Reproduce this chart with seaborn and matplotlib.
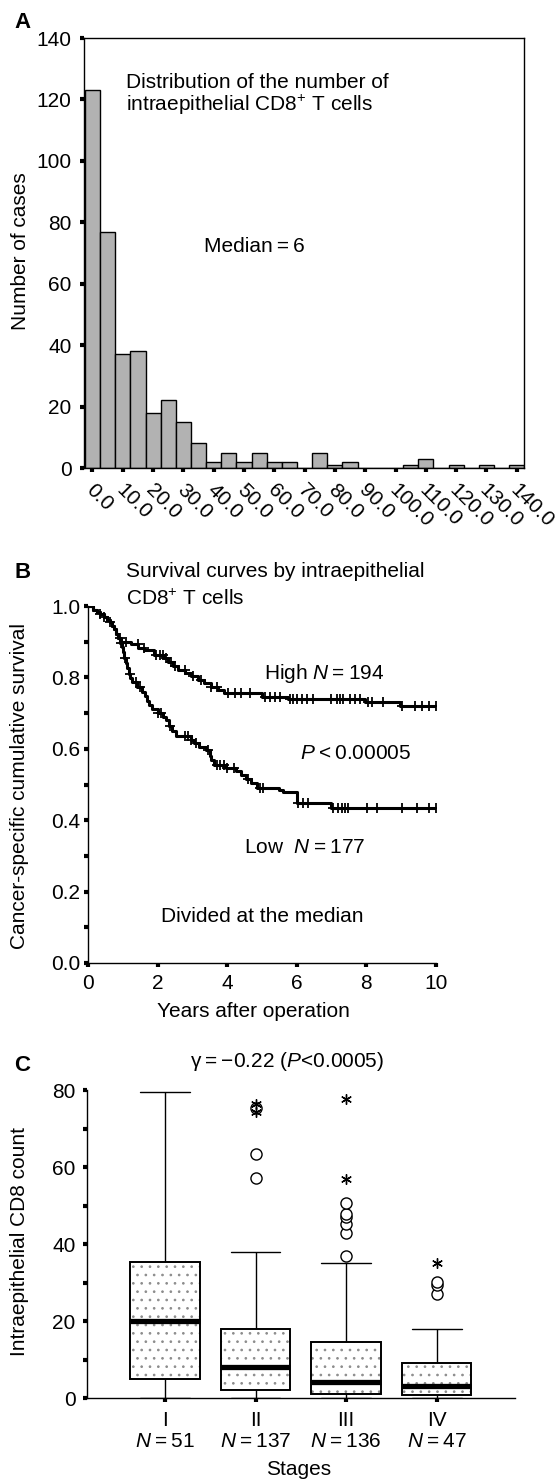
import numpy as np
import pandas as pd
import matplotlib
matplotlib.use("Agg")
import matplotlib.pyplot as plt
import matplotlib.patches as mpatches
import matplotlib.transforms as mtrans
from matplotlib.ticker import FixedLocator
import seaborn as sns

# ---------------- data ----------------
# Panel A: histogram (bin midpoints, bin width 5)
hist_mid = [0, 5, 10, 15, 20, 25, 30, 35, 40, 45, 50, 55, 60, 65, 70, 75, 80,
            85, 90, 95, 100, 105, 110, 115, 120, 125, 130, 135, 140]
hist_count = [123, 77, 37, 38, 18, 22, 15, 8, 2, 5, 2, 5, 2, 2, 0, 5, 1,
              2, 0, 0, 0, 1, 3, 0, 1, 0, 1, 0, 1]
hist_ticks = [0, 10, 20, 30, 40, 50, 60, 70, 80, 90, 100, 110, 120, 130, 140]

# Panel B: Kaplan-Meier step curves
high_t = [0, 0.15, 0.25, 0.35, 0.45, 0.55, 0.62, 0.68, 0.74, 0.80,
          0.86, 0.95, 1.25, 1.45, 1.62, 1.9, 2.2, 2.3, 2.45, 2.6,
          2.8, 2.95, 3.15, 3.35, 3.55, 3.75, 3.92, 5.0, 5.76, 7.97,
          8.97, 10.0]
high_s = [1.0, 0.99, 0.984, 0.978, 0.97, 0.962, 0.955, 0.945, 0.935, 0.922,
          0.91, 0.90, 0.894, 0.882, 0.876, 0.863, 0.855, 0.843, 0.833, 0.822,
          0.812, 0.803, 0.793, 0.783, 0.774, 0.765, 0.755, 0.746, 0.7395, 0.732,
          0.72, 0.72]
high_cens = [0.35, 0.62, 0.91, 1.1, 1.44, 1.6, 1.97, 2.06, 2.16, 2.25, 2.4, 2.49,
             2.78, 3.02, 3.26, 3.55, 3.7, 4.03, 4.22, 4.41, 4.66, 5.09, 5.23,
             5.38, 5.52, 5.81, 5.91, 6.0, 6.15, 6.29, 6.48, 7.0, 7.15, 7.25,
             7.34, 7.54, 7.68, 7.82, 8.06, 8.16, 8.49, 9.02, 9.4, 9.6, 9.8, 10.0]
low_t = [0, 0.15, 0.25, 0.35, 0.45, 0.55, 0.62, 0.68, 0.74, 0.80,
         0.86, 0.92, 0.97, 1.0, 1.04, 1.08, 1.12, 1.17, 1.22, 1.27,
         1.4, 1.55, 1.63, 1.7, 1.76, 1.85, 2.0, 2.15, 2.25, 2.33,
         2.42, 2.52, 2.95, 3.05, 3.2, 3.4, 3.5, 3.55, 3.62, 3.98,
         4.25, 4.4, 4.55, 4.7, 4.85, 5.5, 5.6, 6.0, 7.0, 10.0]
low_s = [1.0, 0.99, 0.984, 0.978, 0.97, 0.962, 0.955, 0.945, 0.935, 0.922,
         0.91, 0.895, 0.885, 0.87, 0.855, 0.84, 0.825, 0.81, 0.797, 0.786,
         0.774, 0.76, 0.748, 0.735, 0.722, 0.712, 0.70, 0.69, 0.68, 0.665,
         0.65, 0.636, 0.625, 0.615, 0.606, 0.597, 0.58, 0.568, 0.555, 0.545,
         0.537, 0.527, 0.515, 0.503, 0.489, 0.484, 0.478, 0.447, 0.435, 0.435]
low_cens = [0.45, 0.96, 1.05, 1.2, 1.39, 1.5, 2.01, 2.1, 2.36, 2.8, 2.88, 2.97,
            3.1, 3.45, 3.7, 3.8, 3.9, 4.0, 4.2, 4.6, 4.95, 5.04, 6.05, 6.19,
            6.34, 7.06, 7.2, 7.3, 7.39, 7.49, 8.01, 8.3, 9.02, 9.45, 9.8, 10.0]

# Panel C: box plot summaries by stage
stages = ["I", "II", "III", "IV"]
stage_n = [51, 137, 136, 47]
box_lo = [0, 0, 0, 0]
box_q1 = [5.0, 2.1, 1.2, 0.85]
box_med = [20.0, 8.0, 4.3, 3.2]
box_q3 = [35.3, 17.9, 14.5, 9.2]
box_hi = [79.6, 38.0, 35.0, 18.0]
circ_stage = ["II", "II", "II", "III", "III", "III", "III", "III", "III", "IV", "IV", "IV"]
circ_val = [57.2, 63.5, 75.4, 36.9, 42.9, 45.1, 47.0, 47.7, 50.8, 27.1, 29.3, 30.1]
star_stage = ["II", "II", "III", "III", "IV"]
star_val = [74.4, 76.3, 56.8, 77.6, 35.2]

# ---------------- style ----------------
sns.set_theme(style="white")
plt.rcParams["font.family"] = ["Liberation Sans", "DejaVu Sans"]
plt.rcParams["mathtext.fontset"] = "custom"
plt.rcParams["mathtext.rm"] = "Liberation Sans"
plt.rcParams["mathtext.it"] = "Liberation Sans:italic"
plt.rcParams["font.size"] = 15
plt.rcParams["text.color"] = "black"
plt.rcParams["axes.labelcolor"] = "black"
plt.rcParams["xtick.color"] = "black"
plt.rcParams["ytick.color"] = "black"
plt.rcParams["axes.linewidth"] = 1.0
plt.rcParams["hatch.linewidth"] = 0.7
FS = 15

W, H = 559, 1481
fig = plt.figure(figsize=(W / 100, H / 100), dpi=100)
fig.patch.set_facecolor("white")


def axrect(l, r, t, b):
    return [l / W, 1 - b / H, (r - l) / W, (b - t) / H]


def ftext(x, y, s, **kw):
    kw.setdefault("fontsize", FS)
    kw.setdefault("va", "baseline")
    kw.setdefault("color", "black")
    fig.text(x / W, 1 - y / H, s, **kw)


axA = fig.add_axes(axrect(84, 524.3, 38, 468))
axB = fig.add_axes(axrect(88, 435.7, 606, 963))
axC = fig.add_axes(axrect(86.8, 515.4, 1090, 1398.3))

for ax in (axA, axB, axC):
    ax.set_facecolor("white")
    for sp in ax.spines.values():
        sp.set_color("black")
        sp.set_linewidth(1.0)

# ---------------- Panel A ----------------
hist_df = pd.DataFrame({"mid": hist_mid, "count": hist_count})
sns.histplot(data=hist_df, x="mid", weights="count", binwidth=5,
             binrange=(-2.5, 142.5), color="#b2b2b2", edgecolor="black",
             linewidth=1.0, alpha=1.0, ax=axA)
axA.set_xlim(-2.8, 142.5)
axA.set_ylim(0, 140)
axA.set_xticks(hist_ticks)
axA.set_xticklabels([f"{v:.1f}" for v in hist_ticks], rotation=-45,
                    ha="left", va="top", rotation_mode="anchor")
axA.set_yticks(range(0, 141, 20))
axA.tick_params(axis="both", direction="out", length=3, width=3, colors="black",
                labelsize=FS, bottom=True, left=True, top=False, right=False)
axA.tick_params(axis="y", pad=6)
axA.tick_params(axis="x", pad=6)
offs = mtrans.ScaledTranslation(3 / 100, 0, fig.dpi_scale_trans)
for lab in axA.get_xticklabels():
    lab.set_transform(lab.get_transform() + offs)
axA.set_xlabel("")
axA.set_ylabel("")

# ---------------- Panel B ----------------
def surv_at(times, surv, t):
    idx = np.searchsorted(times, t, side="right") - 1
    return np.asarray(surv)[idx]

for tt, ss, cc in ((high_t, high_s, high_cens), (low_t, low_s, low_cens)):
    sns.lineplot(x=tt, y=ss, drawstyle="steps-post", color="black", lw=2.2,
                 estimator=None, sort=False, ax=axB)
    sns.scatterplot(x=cc, y=surv_at(tt, ss, cc), marker="+", s=45,
                    color="black", linewidth=1.3, ax=axB, zorder=4)
axB.set_xlim(0, 10)
axB.set_ylim(0, 1.0)
axB.set_xticks([0, 2, 4, 6, 8, 10])
axB.set_xticklabels(["0", "2", "4", "6", "8", "10"])
axB.set_yticks([0, 0.2, 0.4, 0.6, 0.8, 1.0])
axB.set_yticklabels(["0.0", "0.2", "0.4", "0.6", "0.8", "1.0"])
axB.yaxis.set_minor_locator(FixedLocator([0.1, 0.3, 0.5, 0.7, 0.9]))
axB.tick_params(axis="both", which="both", direction="out", length=3, width=3,
                colors="black", labelsize=FS, bottom=True, left=True)
axB.tick_params(axis="y", pad=2.5)
axB.tick_params(axis="x", pad=5)
axB.spines["top"].set_visible(False)
axB.spines["right"].set_visible(False)
axB.set_xlabel("")
axB.set_ylabel("")

# ---------------- Panel C ----------------
box_df = pd.DataFrame({
    "stage": np.repeat(stages, 5),
    "value": np.column_stack([box_lo, box_q1, box_med, box_q3, box_hi]).ravel(),
})
sns.boxplot(data=box_df, x="stage", y="value", order=stages, whis=(0, 100),
            width=0.77, color="white", saturation=1, linecolor="black",
            linewidth=1.3, capwidths=0.55,
            medianprops=dict(linewidth=3.8, color="black", zorder=6),
            whiskerprops=dict(linewidth=1.0),
            capprops=dict(linewidth=1.0),
            ax=axC)
for p in list(axC.patches):
    p.set_hatch("..")
    p.set_edgecolor("#8c8c8c")
    p.set_linewidth(0)
    ov = mpatches.PathPatch(p.get_path(), transform=p.get_transform(), fill=False,
                            edgecolor="black", linewidth=1.4,
                            zorder=p.get_zorder() + 0.05)
    axC.add_patch(ov)

sns.stripplot(x=circ_stage, y=circ_val, order=stages, jitter=False, marker="o",
              size=8, color="white", edgecolor="black", linewidth=1.0, ax=axC,
              zorder=7)
sns.stripplot(x=star_stage, y=star_val, order=stages, jitter=False,
              marker=(6, 2, 0), size=7, color="black", edgecolor="black",
              linewidth=1.0, ax=axC, zorder=7)
axC.set_xlim(-0.864, 3.87)
axC.set_ylim(0, 80)
axC.set_xticks(range(len(stages)))
axC.set_xticklabels([f"{s}\n$N$\u2009=\u2009{n}" for s, n in zip(stages, stage_n)],
                    linespacing=1.15)
axC.set_yticks([0, 20, 40, 60, 80])
axC.yaxis.set_minor_locator(FixedLocator([10, 30, 50, 70]))
axC.tick_params(axis="both", which="both", direction="out", length=3, width=3,
                colors="black", labelsize=FS, bottom=True, left=True)
axC.tick_params(axis="y", pad=5)
axC.tick_params(axis="x", pad=6)
axC.spines["top"].set_visible(False)
axC.spines["right"].set_visible(False)
axC.set_xlabel("")
axC.set_ylabel("")

# ---------------- texts ----------------
ftext(14, 28.3, "A", fontweight="bold", fontsize=16)
ftext(14, 578.3, "B", fontweight="bold", fontsize=16)
ftext(14, 1070.7, "C", fontweight="bold", fontsize=16)

ftext(126, 88.3, "Distribution of the number of")
ftext(126, 111, "intraepithelial CD8$^{+}$ T cells")
ftext(204, 252, "Median\u2009=\u20096")

ftext(126, 576.7, "Survival curves by intraepithelial")
ftext(126, 605, "CD8$^{+}$ T cells")
ftext(264, 679.3, "High $N$\u2009=\u2009194")
ftext(300, 759.3, "$P$\u2009<\u20090.00005")
ftext(244, 852.7, "Low  $N$\u2009=\u2009177")
ftext(161, 921.7, "Divided at the median")
ftext(253, 1017, "Years after operation", ha="center")

ftext(287.5, 1066.7, "\u03b3\u2009=\u2009\u22120.22 ($P$<0.0005)", ha="center")
ftext(299, 1475, "Stages", ha="center")

ftext(20.5, 251, "Number of cases", rotation=90, ha="center", va="center")
ftext(19.6, 786, "Cancer-specific cumulative survival", rotation=90, ha="center", va="center")
ftext(20, 1242, "Intraepithelial CD8 count", rotation=90, ha="center", va="center")

fig.savefig("out.png", dpi=100, facecolor="white")
